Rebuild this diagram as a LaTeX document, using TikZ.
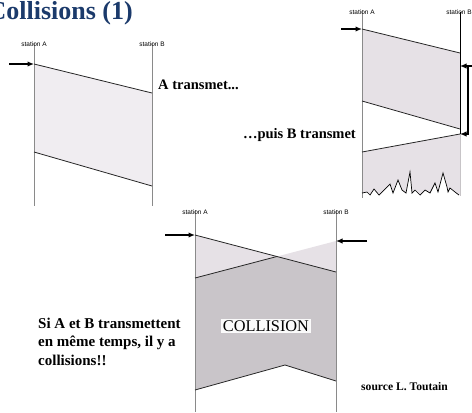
\documentclass[tikz,border=0pt]{standalone}
\usepackage{fontspec}
\setmainfont{Liberation Serif}
\newfontfamily\arialf{Liberation Sans}
\usetikzlibrary{arrows.meta}
\definecolor{titleblue}{HTML}{1B3A6B}
\definecolor{dotfill}{HTML}{F0EDF1}
\definecolor{lightfill}{HTML}{E6E1E6}
\definecolor{darkfill}{HTML}{C9C5C9}
\definecolor{stationgray}{HTML}{8A8A8A}
\tikzset{
  stationline/.style={draw=stationgray, line width=0.9bp},
  stationlabel/.style={font=\arialf\fontsize{6.5bp}{7bp}\selectfont, inner sep=0pt, anchor=base},
  edgeline/.style={draw=black!85, line width=0.8bp},
  sendarrow/.style={draw=black, line width=1.8bp, -{Latex[length=6.5bp,width=5.5bp]}},
  boldtext/.style={font=\bfseries\fontsize{14.5bp}{17bp}\selectfont, inner sep=0pt},
  sitext/.style={font=\bfseries\fontsize{15bp}{18bp}\selectfont, inner sep=0pt, anchor=base west},
}
\begin{document}
\begin{tikzpicture}[x=1bp,y=-1bp]
\useasboundingbox (0,0) rectangle (472,412);
\begin{scope}
\clip (0,0) rectangle (472,412);
\node[font=\bfseries\fontsize{26bp}{30bp}\selectfont, text=titleblue, inner sep=0pt, anchor=base east] (title) at (133,19.5) {Collisions (1)};
\end{scope}

% ---------- Diagram 1 ----------
\fill[dotfill] (34,64) -- (152,93) -- (152,186) -- (34,152) -- cycle;
\draw[stationline] (34,43) -- (34,206);
\draw[stationline] (152,43) -- (152,206);
\draw[edgeline] (34,64) -- (152,93);
\draw[edgeline] (34,152) -- (152,186);
\node[stationlabel] (sa1) at (34,46.5) {station A};
\node[stationlabel] (sb1) at (152,46.5) {station B};
\coordinate (a1s) at (9,64);
\coordinate (a1e) at (34,64);
\draw[sendarrow] (a1s) -- (a1e);
\node[boldtext, anchor=base west] (atx) at (158,89) {A transmet...};

% ---------- Diagram 2 ----------
\fill[lightfill] (362,29) -- (460,53) -- (460,129) -- (362,101) -- cycle;
\fill[lightfill] (460,134) -- (362,152) -- (362,193) -- (367,192) -- (370,195) -- (374,189) -- (379,195) -- (390,184) -- (393,193) -- (398,180) -- (402,190) -- (406,193) -- (410,172) -- (412,193) -- (415,190) -- (420,195) -- (425,190) -- (430,193) -- (435,183) -- (438,192) -- (443,173) -- (447,187) -- (448,192) -- (450,188) -- (455,192) -- (459,195) -- (460,195) -- cycle;
\draw[stationline] (362,10) -- (362,198);
\draw[draw=black, line width=0.9bp] (460,12) -- (460,134);
\draw[draw=lightfill!70!gray, line width=0.6bp] (460,134) -- (460,196);
\draw[edgeline] (362,29) -- (460,53);
\draw[edgeline] (362,101) -- (460,129);
\draw[edgeline] (460,134) -- (362,152);
\draw[draw=black, line width=0.7bp] (362,193) -- (367,192) -- (370,195) -- (374,189) -- (379,195) -- (390,184) -- (393,193) -- (398,180) -- (402,190) -- (406,193) -- (410,172) -- (412,193) -- (415,190) -- (420,195) -- (425,190) -- (430,193) -- (435,183) -- (438,192) -- (443,173) -- (447,187) -- (448,192) -- (450,188) -- (455,192) -- (459,195);
\node[stationlabel] (sa2) at (362,14.5) {station A};
\node[stationlabel] (sb2) at (459,14.5) {station B};
\coordinate (a2s) at (341,29);
\coordinate (a2e) at (362,29);
\draw[sendarrow] (a2s) -- (a2e);
\coordinate (brt) at (472,66);
\coordinate (brtb) at (460,66);
\coordinate (brv) at (468,66);
\coordinate (brb) at (468,134);
\coordinate (brbe) at (460,134);
\draw[sendarrow] (brt) -- (brtb);
\draw[sendarrow] (brv) -- (brb) -- (brbe);
\node[boldtext, anchor=base east] (btx) at (356,138) {…puis B transmet};

% ---------- Diagram 3 ----------
\coordinate (A3) at (195,235);
\coordinate (B3) at (336,241);
\coordinate (A3e) at (336,272);
\coordinate (B3e) at (195,278);
\coordinate (X3) at (276.9,256.5);
\fill[lightfill] (A3) -- (X3) -- (B3e) -- cycle;
\fill[lightfill] (B3) -- (X3) -- (A3e) -- cycle;
\fill[darkfill] (B3e) -- (X3) -- (A3e) -- (336,381) -- (285,365) -- (195,390) -- cycle;
\draw[stationline] (195,210) -- (195,412);
\draw[stationline] (336,210) -- (336,412);
\draw[edgeline] (A3) -- (A3e);
\draw[edgeline] (B3e) -- (X3);
\draw[edgeline] (195,390) -- (285,365) -- (336,381);
\node[stationlabel] (sa3) at (195,214) {station A};
\node[stationlabel] (sb3) at (336,214) {station B};
\coordinate (a3s) at (165,235);
\draw[sendarrow] (a3s) -- (A3);
\coordinate (b3s) at (367,241);
\draw[sendarrow] (b3s) -- (B3);
\node[fill=white!96!gray, font=\fontsize{16.3bp}{18bp}\selectfont, inner xsep=2bp, inner ysep=1.5bp] (coll) at (266,326) {COLLISION};

\node[sitext] (si1) at (38,328) {Si A et B transmettent};
\node[sitext] (si2) at (38,346.5) {en même temps, il y a};
\node[sitext] (si3) at (38,365) {collisions!!};
\node[font=\bfseries\fontsize{11.6bp}{13bp}\selectfont, inner sep=0pt, anchor=base west] (src) at (361,390) {source L. Toutain};
\end{tikzpicture}
\end{document}
